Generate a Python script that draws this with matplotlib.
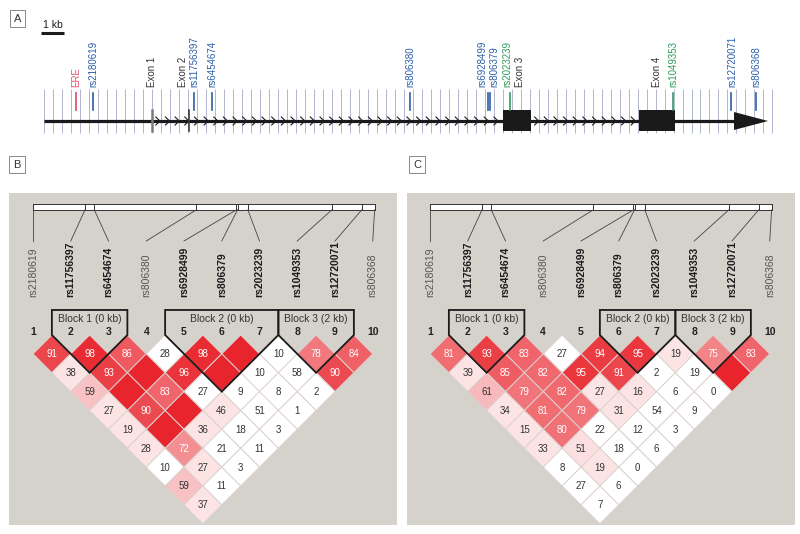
import numpy as np
import matplotlib.pyplot as plt
from matplotlib.patches import Polygon, Rectangle

plt.rcParams['font.family'] = ['Liberation Sans', 'DejaVu Sans']

W, H = 800, 534

# SNPs along the gene (positions in kb from rs2180619)
snp_names = ['rs2180619', 'rs11756397', 'rs6454674', 'rs806380', 'rs6928499',
             'rs806379', 'rs2023239', 'rs1049353', 'rs12720071', 'rs806368']
snp_kb = [0.0, 4.39, 5.17, 13.78, 17.17, 17.26, 18.13, 25.22, 27.74, 28.83]
snp_green = [False, False, False, False, False, False, True, True, False, False]
snp_bold = [False, True, True, False, True, True, True, True, True, False]

# gene structure (kb)
ere_kb = -0.74
exon_names = ['Exon 1', 'Exon 2', 'Exon 3', 'Exon 4']
exon_start = [2.57, 4.17, 17.83, 23.74]
exon_end = [2.57, 4.17, 19.04, 25.30]
gene_start, gene_end = -2.13, 29.35

# D' x100 by distance between SNPs (row d holds pairs i, i+d); 100 = no number
dprime_b = [
    [91, 98, 86, 28, 98, 100, 10, 78, 84],
    [38, 93, 100, 96, 100, 10, 58, 90],
    [59, 100, 83, 27, 9, 8, 2],
    [27, 90, 100, 46, 51, 1],
    [19, 100, 36, 18, 3],
    [28, 72, 21, 11],
    [10, 27, 3],
    [59, 11],
    [37],
]
# 1 = LOD >= 2
lod_b = [
    [1, 1, 1, 0, 1, 1, 0, 1, 1],
    [1, 1, 1, 1, 1, 0, 0, 1],
    [1, 1, 1, 0, 0, 0, 0],
    [1, 1, 1, 1, 0, 0],
    [1, 1, 1, 0, 0],
    [1, 1, 0, 0],
    [0, 1, 0],
    [1, 0],
    [1],
]
dprime_c = [
    [81, 93, 83, 27, 94, 95, 19, 75, 83],
    [39, 85, 82, 95, 91, 2, 19, 100],
    [61, 79, 82, 27, 16, 6, 0],
    [34, 81, 79, 31, 54, 9],
    [15, 80, 22, 12, 3],
    [33, 51, 18, 6],
    [8, 19, 0],
    [27, 6],
    [7],
]
lod_c = [
    [1, 1, 1, 0, 1, 1, 1, 1, 1],
    [1, 1, 1, 1, 1, 0, 0, 1],
    [1, 1, 1, 1, 1, 0, 0],
    [1, 1, 1, 1, 0, 0],
    [1, 1, 0, 0, 0],
    [1, 1, 0, 0],
    [0, 1, 0],
    [0, 0],
    [0],
]
blocks_b = [(2, 3, 'Block 1 (0 kb)'), (5, 7, 'Block 2 (0 kb)'), (8, 9, 'Block 3 (2 kb)')]
blocks_c = [(2, 3, 'Block 1 (0 kb)'), (6, 7, 'Block 2 (0 kb)'), (8, 9, 'Block 3 (2 kb)')]

RED = np.array([232, 36, 44]) / 255.0
BLUE_TXT = '#2c5ea8'
GREEN_TXT = '#2f9a5c'
ERE_RED = '#e0566a'


def ld_color(d, strong):
    # haploview standard scheme, mapped onto the print red
    if not strong:
        return (1, 1, 1), 255
    if d < 50:
        blgr = 224
    else:
        blgr = (255 - 32) * 2 * (1 - d / 100.0)
    t = blgr / 255.0
    return tuple(RED + (1 - RED) * t), blgr


fig = plt.figure(figsize=(W / 100, H / 100), dpi=100)

# ---------------- panel A : gene diagram ----------------
px_per_kb = 23.0
x_rs1 = 93.0
top_a = 150
ax_a = fig.add_axes([0, 1 - top_a / H, 1, top_a / H])
ax_a.set_xlim(-x_rs1 / px_per_kb, (W - x_rs1) / px_per_kb)
ax_a.set_ylim(top_a, 0)
ax_a.axis('off')

grid_x = np.arange(gene_start, gene_end + 0.5, 0.391)
ax_a.vlines(grid_x, 89, 133, color='#a3abc9', lw=0.6, zorder=0.5)

ax_a.plot([gene_start, 27.87], [121, 121], color='#1a1a1a', lw=2.3, solid_capstyle='butt', zorder=2)
ax_a.add_patch(Polygon([(27.87, 112), (27.87, 130), (gene_end, 121)], closed=True,
                       fc='#1a1a1a', ec='none', zorder=3))
for xs in [np.arange(2.83, 17.7, 0.42), np.arange(19.3, 23.6, 0.42)]:
    for xc in xs:
        ax_a.plot([xc - 0.1, xc + 0.08, xc - 0.1], [117, 121, 125], color='#1a1a1a', lw=0.8)

exon_label_shift = {'Exon 2': -0.26, 'Exon 3': 0.14}
for name, s, e in zip(exon_names, exon_start, exon_end):
    if e - s > 0.1:
        ax_a.add_patch(Rectangle((s, 110), e - s, 21, fc='#1a1a1a', ec='none', zorder=3))
        lx = (s + e) / 2
    else:
        col = '#7a7a7a' if name == 'Exon 1' else '#3a3a3a'
        ax_a.plot([s, s], [110, 131], color=col, lw=1.8 if name == 'Exon 1' else 1.2, zorder=3)
        lx = s
    ax_a.text(lx + exon_label_shift.get(name, 0), 87, name, rotation=90, ha='center',
              va='bottom', fontsize=7, color='#333333')

ax_a.plot([ere_kb, ere_kb], [93, 110], color=ERE_RED, lw=1.3)
ax_a.text(ere_kb, 87, 'ERE', rotation=90, ha='center', va='bottom', fontsize=7, color=ERE_RED)

label_shift = {'rs6928499': -0.24, 'rs806379': 0.17, 'rs2023239': -0.12, 'rs12720071': 0.04}
for name, kb, green in zip(snp_names, snp_kb, snp_green):
    col = GREEN_TXT if green else BLUE_TXT
    ax_a.plot([kb, kb], [93, 110], color=col, lw=1.2, zorder=4)
    ax_a.text(kb + label_shift.get(name, 0), 87, name, rotation=90, ha='center',
              va='bottom', fontsize=7, color=col)

# scale bar 1 kb
ax_a.plot([-2.26, -1.26], [33, 33], color='#1a1a1a', lw=2.2, solid_capstyle='butt')
ax_a.text(-1.76, 25.5, '1 kb', ha='center', va='center', fontsize=7.5, color='#1a1a1a')


# ---------------- panels B and C : LD plots ----------------
def draw_ld(left_px, snp1_px, dprime, lod, blocks):
    u = 37.75
    width_px, top_px, bottom_px, vtx_px = 388, 193, 525, 335
    ax = fig.add_axes([left_px / W, 1 - bottom_px / H, width_px / W, (bottom_px - top_px) / H])
    x0 = 1 - (snp1_px - left_px) / u
    ax.set_xlim(x0, x0 + width_px / u)
    ax.set_ylim(-(bottom_px - vtx_px) / u, (vtx_px - top_px) / u)
    ax.set_facecolor('#d5d1cb')
    ax.set_xticks([])
    ax.set_yticks([])
    for sp in ax.spines.values():
        sp.set_visible(False)

    n = len(snp_names)
    # physical position bar
    bar_lo, bar_hi = 3.316, 3.475
    bx = [1 + kb / snp_kb[-1] * 9.05 for kb in snp_kb]
    ax.add_patch(Rectangle((bx[0], bar_lo), bx[-1] - bx[0], bar_hi - bar_lo,
                           fc='white', ec='#333333', lw=0.7))
    for i in range(n):
        ax.plot([bx[i], bx[i]], [bar_lo, bar_hi], color='#333333', lw=0.7)
        ax.plot([bx[i], i + 1], [bar_lo, 2.49], color='#444444', lw=0.6)
        ax.text(i + 1, 1.0, snp_names[i], rotation=90, ha='center', va='bottom',
                fontsize=7.5, color='#1a1a1a' if snp_bold[i] else '#555555',
                fontweight='bold' if snp_bold[i] else 'normal')
        ax.text(i + 1, 0.07, str(i + 1), ha='center', va='center', fontsize=7.5,
                fontweight='bold', color='#222222')

    # diamonds
    for d, (row, lrow) in enumerate(zip(dprime, lod), start=1):
        for k, (val, strong) in enumerate(zip(row, lrow)):
            i = k + 1
            cx, cy = i + d / 2.0, -d / 2.0
            fc, blgr = ld_color(val, strong)
            ax.add_patch(Polygon([(cx, cy + 0.5), (cx + 0.5, cy), (cx, cy - 0.5), (cx - 0.5, cy)],
                                 closed=True, fc=fc, ec='#dcd2d0', lw=0.7))
            if val < 100:
                ax.text(cx, cy - 0.01, str(val), ha='center', va='center', fontsize=7,
                        color='white' if blgr < 150 else '#333333')

    # haplotype blocks
    top = 0.663
    for a, b, label in blocks:
        pts = [(a - 0.5, 0), (a - 0.5, top), (b + 0.5, top), (b + 0.5, 0),
               ((a + b) / 2.0, -(b - a + 1) / 2.0)]
        ax.add_patch(Polygon(pts, closed=True, fill=False, ec='#1a1a1a', lw=1.3, zorder=4))
        ax.text((a + b) / 2.0, 0.42, label, ha='center', va='center', fontsize=7.5, color='#333333')
    return ax


draw_ld(9, 33, dprime_b, lod_b, blocks_b)
draw_ld(407, 430, dprime_c, lod_c, blocks_c)

# panel letters
for letter, (px, py) in zip('ABC', [(17.5, 18.5), (17, 164.5), (417, 164.5)]):
    fig.text(px / W, 1 - py / H, letter, ha='center', va='center', fontsize=8, color='#333333',
             bbox=dict(boxstyle='square,pad=0.35', fc='white', ec='#888888', lw=0.7))

fig.savefig('out.png', dpi=100)
